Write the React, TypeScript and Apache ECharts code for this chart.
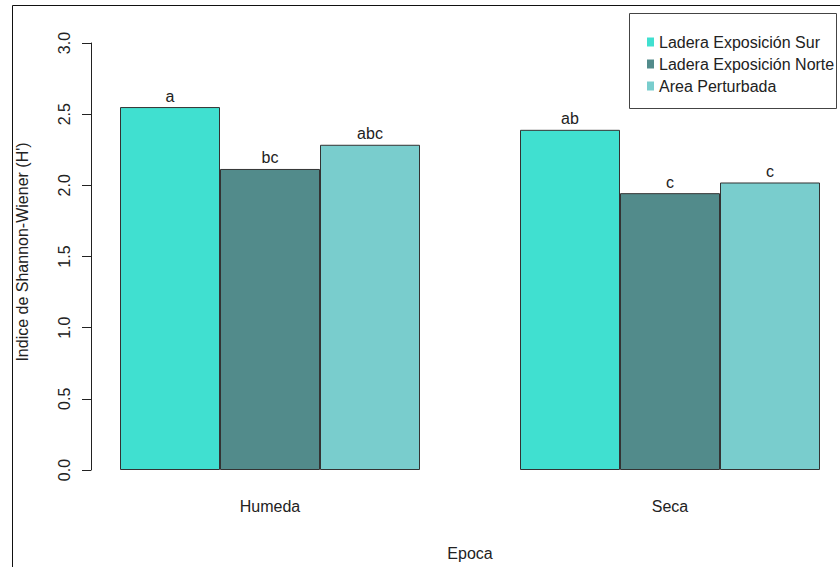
import React, { useEffect, useRef } from "react";
import * as echarts from "echarts";

const categories = ["Humeda", "Seca"];
const seriesNames = ["Ladera Exposición Sur", "Ladera Exposición Norte", "Area Perturbada"];
const surValues = [2.55, 2.39];
const norteValues = [2.115, 1.945];
const perturbadaValues = [2.285, 2.02];
const surLetters = ["a", "ab"];
const norteLetters = ["bc", "c"];
const perturbadaLetters = ["abc", "c"];
const colors = ["#40E0D0", "#528B8B", "#79CDCD"];
const yTitle = "Indice de Shannon-Wiener (H')";
const xTitle = "Epoca";

const FONT = "'Liberation Sans', Arial, sans-serif";

export default function App() {
  const ref = useRef<HTMLDivElement>(null);
  useEffect(() => {
    if (!ref.current) return;
    const chart = echarts.init(ref.current, null, { renderer: "svg" });
    const values = [surValues, norteValues, perturbadaValues];
    const letters = [surLetters, norteLetters, perturbadaLetters];
    chart.setOption({
      animation: false,
      backgroundColor: "#ffffff",
      textStyle: { fontFamily: FONT },
      grid: { left: 70, right: 10, top: 43, bottom: 97 },
      legend: {
        orient: "vertical",
        left: 642,
        top: 29,
        itemWidth: 7,
        itemHeight: 9,
        itemGap: 6,
        icon: "rect",
        data: seriesNames,
        itemStyle: { borderWidth: 0 },
        textStyle: { fontSize: 16, lineHeight: 16, color: "#222", fontFamily: FONT },
      },
      xAxis: {
        type: "category",
        data: categories,
        axisLine: { show: false },
        axisTick: { show: false },
        axisLabel: { fontSize: 16, color: "#222", margin: 28, fontFamily: FONT },
      },
      yAxis: {
        type: "value",
        min: 0,
        max: 3,
        interval: 0.5,
        offset: -21,
        splitLine: { show: false },
        axisLine: { show: true, lineStyle: { color: "#222", width: 1 } },
        axisTick: { show: true, length: 9, lineStyle: { color: "#222" } },
        axisLabel: {
          fontSize: 16,
          color: "#222",
          rotate: 90,
          margin: 19,
          fontFamily: FONT,
          formatter: (v: number) => v.toFixed(1),
        },
      },
      series: seriesNames.map((name, i) => ({
        name,
        type: "bar",
        data: values[i],
        barWidth: 100,
        barGap: "0%",
        itemStyle: { color: colors[i], borderColor: "#333", borderWidth: 1 },
        label: {
          show: true,
          position: "top",
          distance: 3,
          fontSize: 16,
          color: "#222",
          fontFamily: FONT,
          formatter: (p: any) => letters[i][p.dataIndex],
        },
      })),
      graphic: [
        {
          type: "rect",
          silent: true,
          shape: { x: 12.5, y: 5.5, width: 900, height: 700 },
          style: { fill: "none", stroke: "#111", lineWidth: 1 },
        },
        {
          type: "rect",
          silent: true,
          shape: { x: 629.5, y: 13.5, width: 207, height: 95 },
          style: { fill: "none", stroke: "#444", lineWidth: 1 },
        },
        {
          type: "text",
          silent: true,
          x: 22,
          y: 252,
          rotation: Math.PI / 2,
          style: {
            text: yTitle,
            fontSize: 16,
            fill: "#222",
            fontFamily: FONT,
            align: "center",
            verticalAlign: "middle",
          },
        },
        {
          type: "text",
          silent: true,
          x: 470,
          y: 553,
          style: {
            text: xTitle,
            fontSize: 16,
            fill: "#222",
            fontFamily: FONT,
            align: "center",
            verticalAlign: "middle",
          },
        },
      ],
    });
    return () => chart.dispose();
  }, []);
  return (
    <div
      style={{
        position: "fixed",
        left: 0,
        top: 0,
        width: 840,
        height: 567,
        overflow: "hidden",
        background: "#fff",
      }}
    >
      <div ref={ref} style={{ width: 880, height: 567 }} />
    </div>
  );
}
